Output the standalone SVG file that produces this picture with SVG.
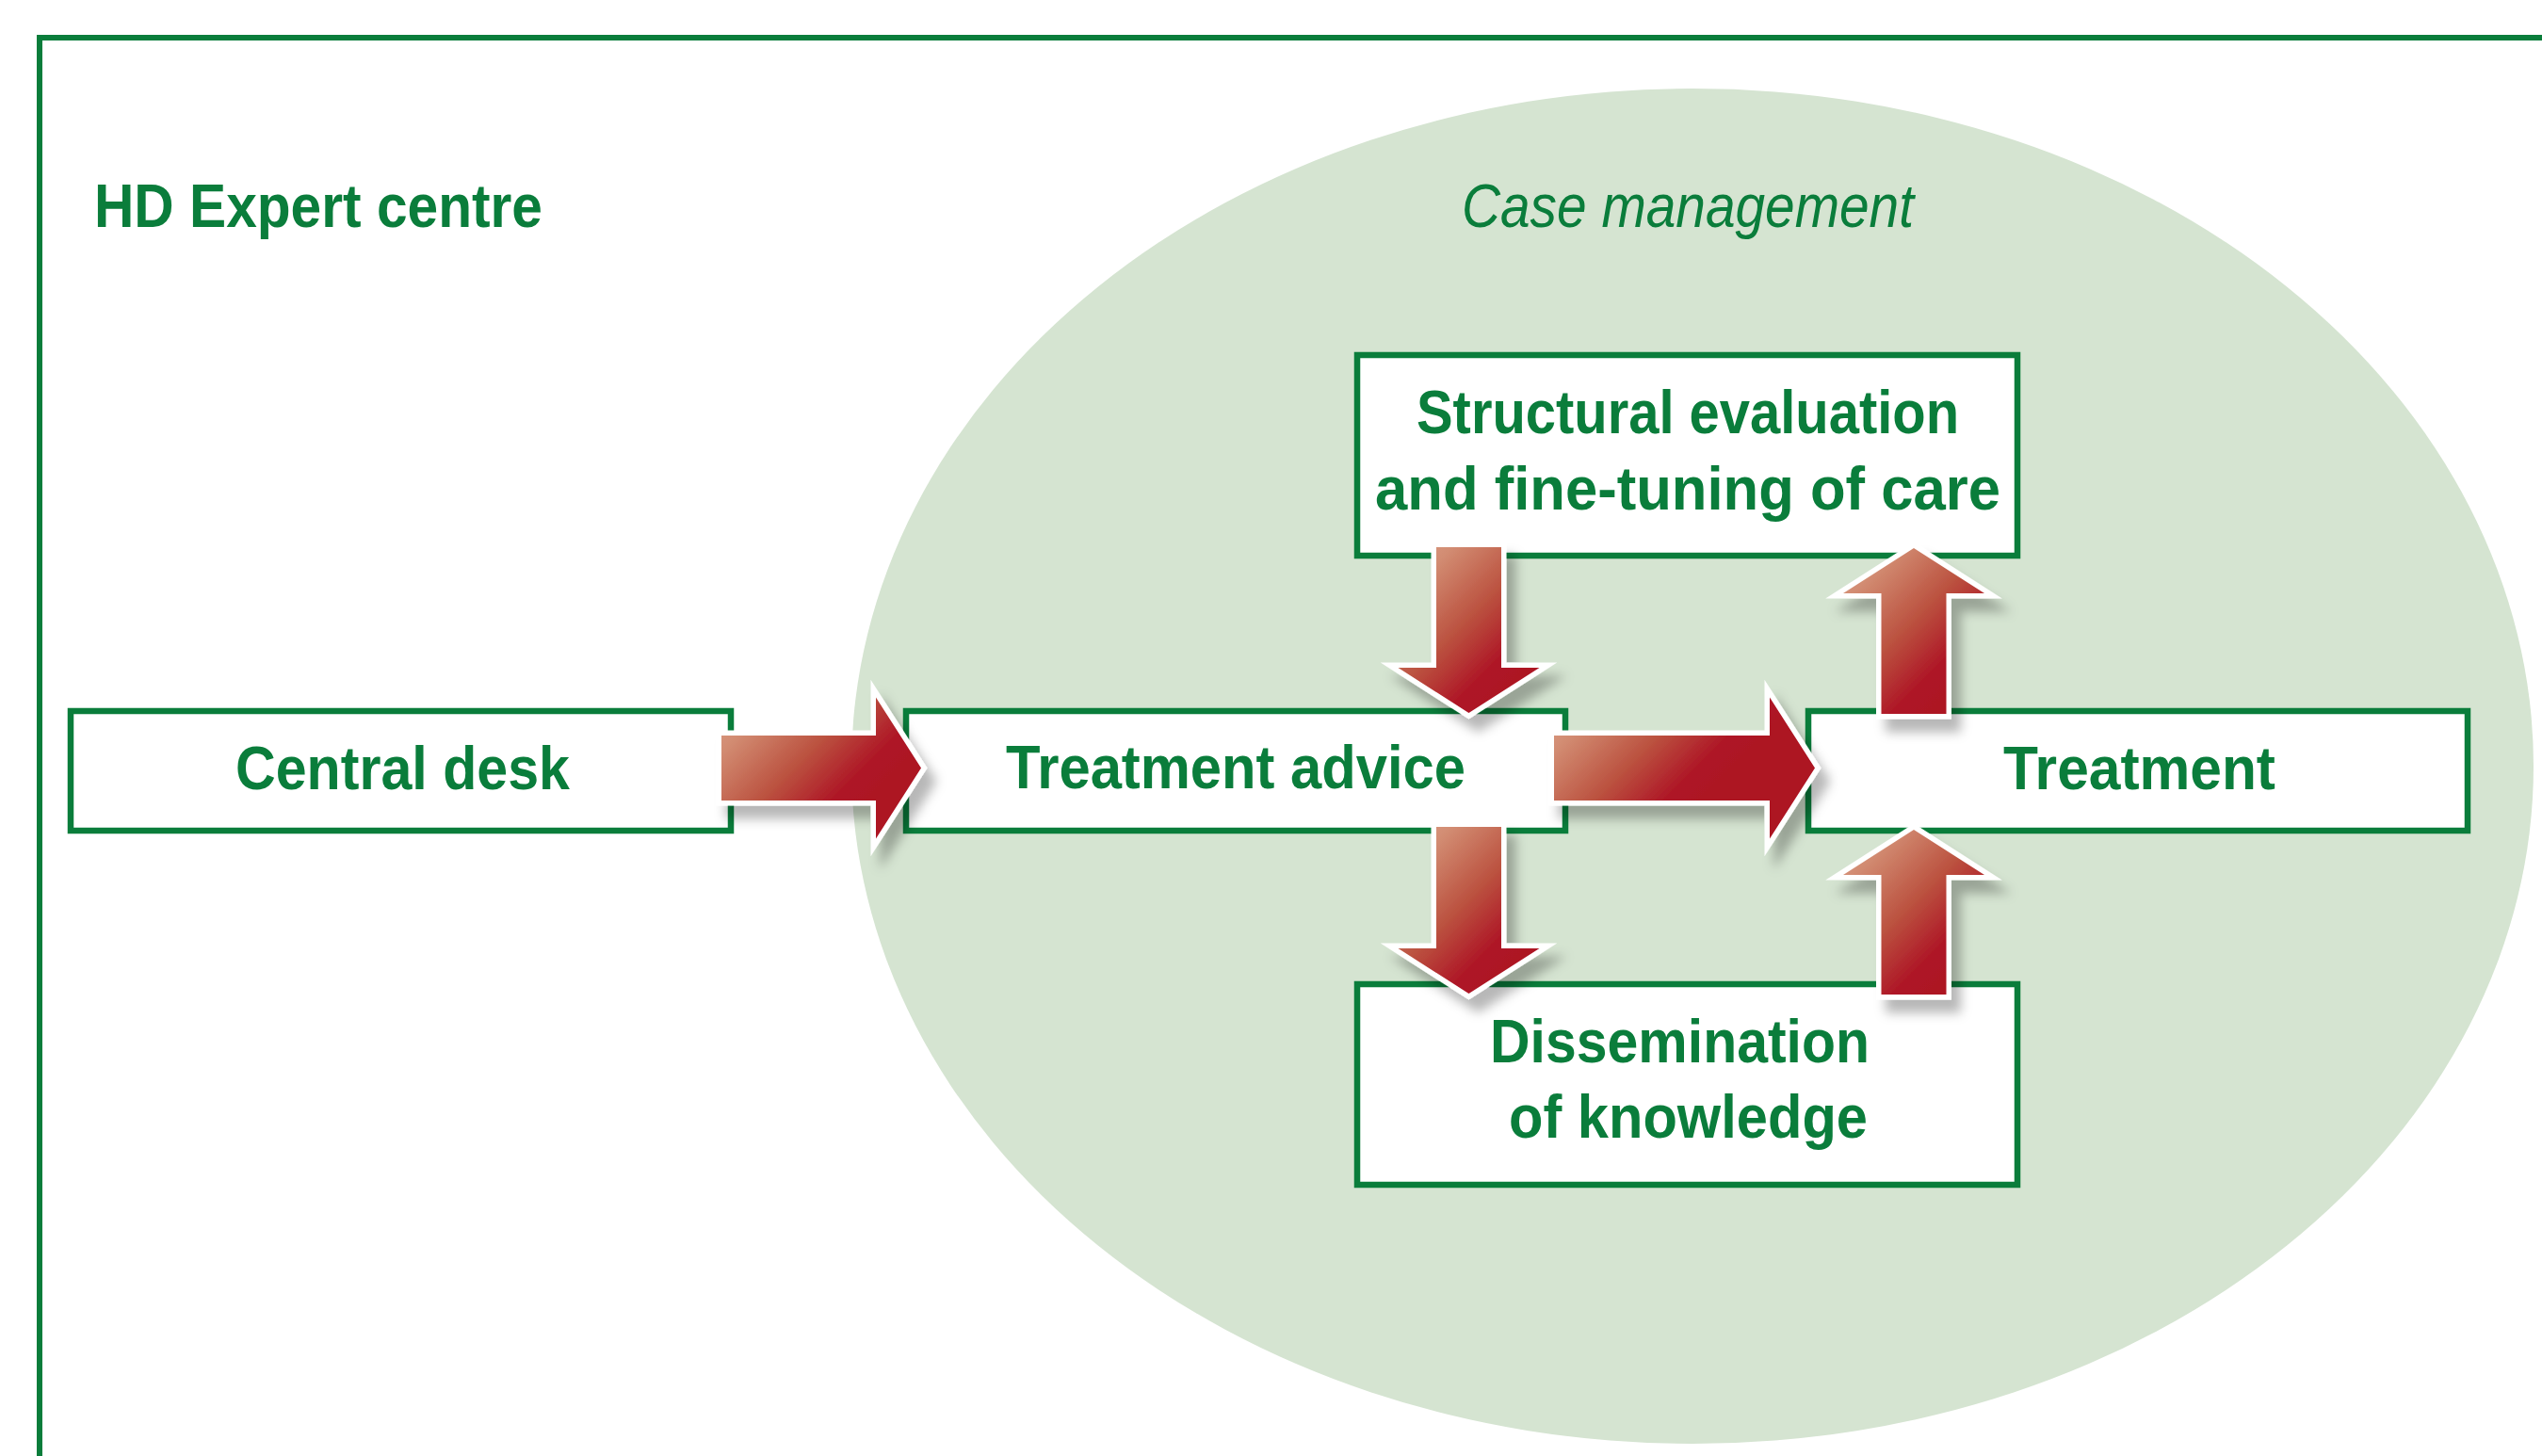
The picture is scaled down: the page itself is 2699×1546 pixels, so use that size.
<svg xmlns="http://www.w3.org/2000/svg" width="2699" height="1546" viewBox="0 0 2699 1546">
<style>
.lbl{font-family:"Liberation Sans",Arial,sans-serif;font-weight:bold;font-size:64px;fill:#0a7d3b}
.ital{font-family:"Liberation Sans",Arial,sans-serif;font-style:italic;font-size:64px;fill:#0a7d3b}
.box{fill:#fff;stroke:#0a7d3b;stroke-width:6.5}
.arr{stroke:#fff;stroke-width:11;stroke-linejoin:miter;stroke-miterlimit:6;paint-order:stroke}
</style>
<defs>
<linearGradient id="gbase">
<stop offset="0" stop-color="#dca189"/>
<stop offset="0.22" stop-color="#d28c72"/>
<stop offset="0.58" stop-color="#bb513f"/>
<stop offset="0.87" stop-color="#ae1526"/>
<stop offset="1" stop-color="#ad1224"/>
</linearGradient>
<linearGradient id="g1" href="#gbase" gradientUnits="userSpaceOnUse" x1="766" y1="740" x2="898" y2="872"/>
<linearGradient id="g2" href="#gbase" gradientUnits="userSpaceOnUse" x1="1650" y1="740" x2="1782" y2="872"/>
<linearGradient id="g3" href="#gbase" gradientUnits="userSpaceOnUse" x1="1484" y1="581" x2="1616" y2="713"/>
<linearGradient id="g4" href="#gbase" gradientUnits="userSpaceOnUse" x1="1484" y1="878" x2="1616" y2="1010"/>
<linearGradient id="g5" href="#gbase" gradientUnits="userSpaceOnUse" x1="1957" y1="582" x2="2089" y2="714"/>
<linearGradient id="g6" href="#gbase" gradientUnits="userSpaceOnUse" x1="1957" y1="881" x2="2089" y2="1013"/>
<filter id="sh" x="-40%" y="-40%" width="180%" height="180%">
<feGaussianBlur in="SourceAlpha" stdDeviation="6"/>
<feOffset dx="10" dy="14" result="b"/>
<feFlood flood-color="#000" flood-opacity="0.28"/>
<feComposite in2="b" operator="in"/>
<feMerge><feMergeNode/><feMergeNode in="SourceGraphic"/></feMerge>
</filter>
</defs>
<rect width="2699" height="1546" fill="#fff"/>
<g id="expert-centre">
<path d="M42,1546 V40 H2699" fill="none" stroke="#0a7d3b" stroke-width="6"/>
<text class="lbl" x="100" y="241" textLength="476" lengthAdjust="spacingAndGlyphs">HD Expert centre</text>
</g>
<g id="case-management">
<ellipse cx="1797" cy="813.5" rx="893" ry="719.5" fill="#d5e4d1"/>
<text class="ital" x="1552" y="241" textLength="480" lengthAdjust="spacingAndGlyphs">Case management</text>
</g>
<g id="central-desk">
<rect class="box" x="75" y="755" width="701" height="127"/>
<text class="lbl" x="250" y="838" textLength="355" lengthAdjust="spacingAndGlyphs">Central desk</text>
</g>
<g id="treatment-advice">
<rect class="box" x="962" y="755" width="700" height="127"/>
<text class="lbl" x="1068" y="837" textLength="488" lengthAdjust="spacingAndGlyphs">Treatment advice</text>
</g>
<g id="treatment">
<rect class="box" x="1920" y="755" width="700" height="127"/>
<text class="lbl" x="2127" y="838" textLength="289" lengthAdjust="spacingAndGlyphs">Treatment</text>
</g>
<g id="structural-evaluation">
<rect class="box" x="1441" y="377" width="701" height="213"/>
<text class="lbl" x="1504" y="460" textLength="576" lengthAdjust="spacingAndGlyphs">Structural evaluation</text>
<text class="lbl" x="1460" y="541" textLength="664" lengthAdjust="spacingAndGlyphs">and fine-tuning of care</text>
</g>
<g id="dissemination">
<rect class="box" x="1441" y="1045" width="701" height="213"/>
<text class="lbl" x="1582" y="1128" textLength="403" lengthAdjust="spacingAndGlyphs">Dissemination</text>
<text class="lbl" x="1602" y="1208" textLength="381" lengthAdjust="spacingAndGlyphs">of knowledge</text>
</g>
<g id="connectors" filter="url(#sh)">
<polygon class="arr" fill="url(#g1)" points="766,781 930,781 930,740.5 978,815.5 930,890.5 930,850 766,850"/>
<polygon class="arr" fill="url(#g2)" points="1650,781 1879,781 1879,740.5 1927,815.5 1879,890.5 1879,850 1650,850"/>
<polygon class="arr" fill="url(#g3)" points="1525,581 1594,581 1594,709 1634.5,709 1559.5,757 1484.5,709 1525,709"/>
<polygon class="arr" fill="url(#g4)" points="1525,878 1594,878 1594,1007 1634.5,1007 1559.5,1055 1484.5,1007 1525,1007"/>
<polygon class="arr" fill="url(#g5)" points="2032,582 2107,630 2066.5,630 2066.5,758 1997.5,758 1997.5,630 1957,630"/>
<polygon class="arr" fill="url(#g6)" points="2032,881 2107,929 2066.5,929 2066.5,1056 1997.5,1056 1997.5,929 1957,929"/>
</g>
</svg>
